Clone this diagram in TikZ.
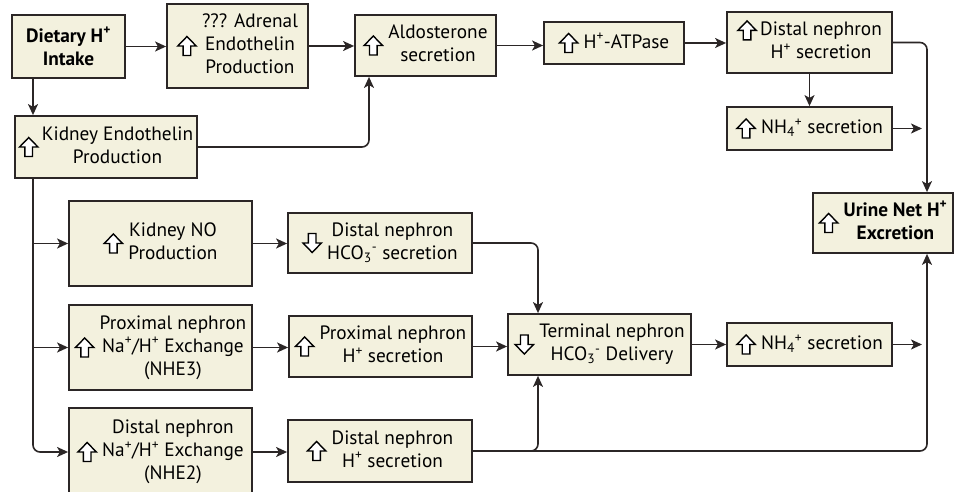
\documentclass[tikz,border=0pt]{standalone}
\usepackage{fontspec}
\setmainfont{PT Sans}
\usetikzlibrary{positioning,arrows.meta,calc}
\usepackage{xcolor}
\definecolor{BoxFill}{HTML}{F3F1DE}
\definecolor{BoxLine}{HTML}{2B2626}
\newcommand{\upar}{\ensuremath{\vcenter{\hbox{\tikz[x=1pt,y=1pt]\draw[line width=1.4pt,fill=white,line join=miter] (-3.8,0)--(3.8,0)--(3.8,9.5)--(9.2,9.5)--(0,19)--(-9.2,9.5)--(-3.8,9.5)--cycle;}}}}
\newcommand{\dnar}{\ensuremath{\vcenter{\hbox{\tikz[x=1pt,y=1pt]\draw[line width=1.4pt,fill=white,line join=miter] (-3.8,19)--(3.8,19)--(3.8,9.5)--(9.2,9.5)--(0,0)--(-9.2,9.5)--(-3.8,9.5)--cycle;}}}}
\newcommand{\lines}[2][c]{\begin{tabular}[#1]{@{}c@{}}#2\end{tabular}}

\begin{document}
\begin{tikzpicture}[x=1pt,y=-1pt,
        box/.style={draw=BoxLine, line width=1.8pt, fill=BoxFill, inner sep=0pt, align=center,
          font=\fontsize{19.3}{23}\selectfont},
        link/.style={draw=BoxLine, line width=1.6pt, rounded corners=7pt,
          -{Stealth[length=11pt,width=10pt,inset=2.8pt]}},
      ]
      \useasboundingbox (0,0) rectangle (954,492);
      \coordinate (trunk) at (33,0);
      \coordinate (aldoin) at (369,0);
      \coordinate (join) at (538,0);
      \coordinate (stop) at (922,0);
      \coordinate (exit) at (927,0);

      \node[box, minimum width=113pt, minimum height=63pt] (diet) at (68.5,46.5)
        {\bfseries Dietary H\textsuperscript{+}\\\bfseries Intake};
      \node[box, minimum width=141pt, minimum height=84pt] (adrenal) at (237.5,46)
        {\upar\ \lines{??? Adrenal\\Endothelin\\Production}};
      \node[box, minimum width=141pt, minimum height=61pt] (aldo) at (425.5,45.5)
        {\upar\ \lines{Aldosterone\\secretion}};
      \node[box, minimum width=140pt, minimum height=42pt] (atp) at (614,43)
        {\upar\ H\textsuperscript{+}-ATPase};
      \node[box, minimum width=165pt, minimum height=61pt] (dneph) at (809.5,42.5)
        {\upar\,\lines[t]{Distal nephron\\H\textsuperscript{+} secretion}};
      \node[box, minimum width=165pt, minimum height=43pt] (nhfoura) at (809.5,128.5)
        {\upar\ NH\textsubscript{4}\textsuperscript{+} secretion};
      \node[box, minimum width=140pt, minimum height=60pt] (urine) at (883,223)
        {\upar\ \lines{\bfseries Urine Net H\textsuperscript{+}\\\bfseries Excretion}};
      \node[box, minimum width=182pt, minimum height=62pt] (kendo) at (106,147)
        {\upar\,\lines{Kidney Endothelin\\Production}};
      \node[box, minimum width=183pt, minimum height=85pt] (kno) at (160.5,243.5)
        {\upar\ \lines{Kidney NO\\Production}};
      \node[box, minimum width=183pt, minimum height=85pt] (nhethree) at (160.5,347.5)
        {\upar\ \lines{Proximal nephron\\Na\textsuperscript{+}/H\textsuperscript{+} Exchange\\(NHE3)}};
      \node[box, minimum width=183pt, minimum height=88pt] (nhetwo) at (160.5,452)
        {\upar\ \lines{Distal nephron\\Na\textsuperscript{+}/H\textsuperscript{+} Exchange\\(NHE2)}};
      \node[box, minimum width=184pt, minimum height=60pt] (hcothree) at (380,243)
        {\dnar\ \lines{Distal nephron\\HCO\textsubscript{3}\textsuperscript{-} secretion}};
      \node[box, minimum width=183pt, minimum height=61pt] (pneph) at (380.5,346.5)
        {\upar\ \lines{Proximal nephron\\H\textsuperscript{+} secretion}};
      \node[box, minimum width=184pt, minimum height=62pt] (dnephb) at (380,451)
        {\upar\ \lines{Distal nephron\\H\textsuperscript{+} secretion}};
      \node[box, minimum width=183pt, minimum height=61pt] (term) at (599.5,344.5)
        {\dnar\ \lines{Terminal nephron\\HCO\textsubscript{3}\textsuperscript{-} Delivery}};
      \node[box, minimum width=165pt, minimum height=43pt] (nhfourb) at (809.5,344.5)
        {\upar\ NH\textsubscript{4}\textsuperscript{+} secretion};

      \draw[link] (diet.east) -- (diet.east -| adrenal.west);
      \draw[link] (diet.south -| trunk) -- (kendo.north -| trunk);
      \draw[link] (adrenal.east) -- (adrenal.east -| aldo.west);
      \draw[link] (kendo.east) -| (aldo.south -| aldoin);
      \draw[link] (aldo.east) -- (aldo.east -| atp.west);
      \draw[link] (atp.east) -- (atp.east -| dneph.west);
      \draw[link] (dneph.east) -| (urine.north -| exit);
      \draw[link] (dneph.south) -- (nhfoura.north);
      \draw[link] (nhfoura.east) -- (nhfoura.east -| stop);
      \draw[link] (kendo.south -| trunk) |- (nhetwo.west);
      \draw[link] (kno.west -| trunk) -- (kno.west);
      \draw[link] (nhethree.west -| trunk) -- (nhethree.west);
      \draw[link] (kno.east) -- (kno.east -| hcothree.west);
      \draw[link] (nhethree.east) -- (nhethree.east -| pneph.west);
      \draw[link] (nhetwo.east) -- (nhetwo.east -| dnephb.west);
      \draw[link] (hcothree.east) -| (term.north -| join);
      \draw[link] (pneph.east) -- (pneph.east -| term.west);
      \draw[link] (dnephb.east) -| (term.south -| join);
      \draw[link] (dnephb.east) -| (urine.south -| exit);
      \draw[link] (term.east) -- (term.east -| nhfourb.west);
      \draw[link] (nhfourb.east) -- (nhfourb.east -| stop);
    \end{tikzpicture}
\end{document}
